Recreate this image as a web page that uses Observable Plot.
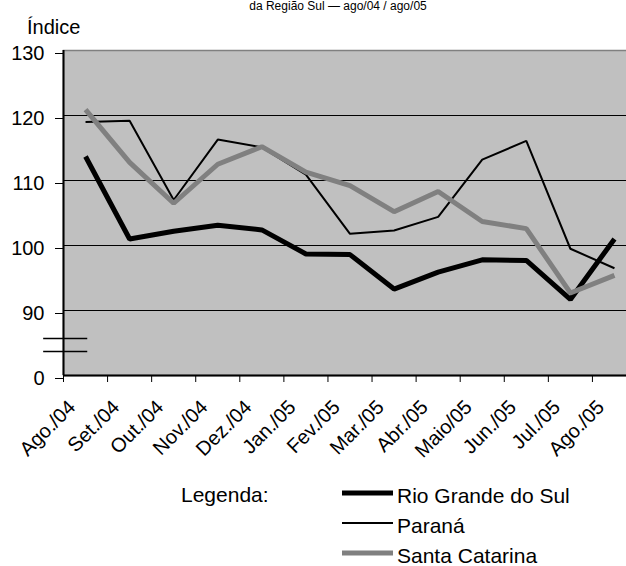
<!DOCTYPE html>
<html>
<head>
<meta charset="utf-8">
<script src="https://cdn.jsdelivr.net/npm/d3@7"></script>
<script src="https://cdn.jsdelivr.net/npm/@observablehq/plot@0.6"></script>
<style>
  html, body { margin: 0; padding: 0; background: #fff; }
  body { width: 626px; height: 566px; overflow: hidden; position: relative;
         font-family: "Liberation Sans", Arial, sans-serif; color: #000; }
  #title { position: absolute; top: 0px; left: 338px; transform: translateX(-50%);
           font-size: 12px; line-height: 12px; white-space: nowrap; }
  #ylabel { position: absolute; top: 17px; left: 27px; font-size: 20px; line-height: 20px; }
  #chart { position: absolute; top: 0; left: 0; width: 640px; }
  #chart svg { max-width: none !important; }
  #legend { position: absolute; top: 466px; left: 0; width: 626px; height: 100px; }
  .lg-item { position: absolute; font-size: 21px; line-height: 21px; white-space: nowrap; }
</style>
</head>
<body>
<div id="title">da Região Sul — ago/04 / ago/05</div>
<div id="ylabel">Índice</div>
<div id="chart"></div>
<div id="legend"></div>
<script>
// ---- data ----
const months = ["Ago./04","Set./04","Out./04","Nov./04","Dez./04","Jan./05","Fev./05","Mar./05","Abr./05","Maio/05","Jun./05","Jul./05","Ago./05"];
const rioGrandeDoSul = [113.7, 101.0, 102.2, 103.1, 102.4, 98.7, 98.6, 93.3, 95.9, 97.8, 97.7, 91.7, 101.0];
const parana         = [119.0, 119.2, 107.0, 116.3, 115.1, 110.9, 101.8, 102.3, 104.4, 113.2, 116.1, 99.5, 96.5];
const santaCatarina  = [120.9, 112.8, 106.5, 112.5, 115.2, 111.3, 109.2, 105.2, 108.3, 103.7, 102.6, 92.7, 95.4];
const seriesNames = ["Rio Grande do Sul", "Paraná", "Santa Catarina"];
const yTicks = [80, 90, 100, 110, 120, 130];   // 80 is the broken-axis "0"
const yTickLabels = ["0", "90", "100", "110", "120", "130"];
const breakMarks = [85.7, 83.7];               // axis-break strokes (data units)

// ---- styles ----
const styles = {
  "Rio Grande do Sul": {stroke: "#000000", width: 5},
  "Paraná": {stroke: "#000000", width: 2},
  "Santa Catarina": {stroke: "#808080", width: 5}
};
const seriesValues = [rioGrandeDoSul, parana, santaCatarina];

const rows = [];
seriesNames.forEach((name, s) => {
  seriesValues[s].forEach((v, i) => rows.push({series: name, i, month: months[i], value: v}));
});

const lineMarks = seriesNames.map(name =>
  Plot.lineY(rows.filter(r => r.series === name), {
    x: d => d.i + 0.5, y: "value",
    stroke: styles[name].stroke, strokeWidth: styles[name].width,
    strokeLinejoin: "miter", strokeLinecap: "butt"
  })
);

const chart = Plot.plot({
  width: 640,
  height: 466,
  marginTop: 50,
  marginBottom: 91,
  marginLeft: 63,
  marginRight: 4,
  style: {fontFamily: "'Liberation Sans', Arial, sans-serif", fontSize: "20px", color: "#000", background: "transparent", maxWidth: "none"},
  x: {type: "linear", domain: [0, months.length], axis: null},
  y: {domain: [80, 130], axis: null},
  marks: [
    Plot.frame({fill: "#c0c0c0", stroke: "#808080", strokeWidth: 1.5}),
    Plot.ruleY(yTicks.filter(t => t > 80 && t < 130), {stroke: "#000", strokeWidth: 1}),
    Plot.ruleX([0], {stroke: "#000", strokeWidth: 2}),
    Plot.ruleY([80], {stroke: "#000", strokeWidth: 2}),
    Plot.axisY({ticks: yTicks, tickSize: 8, tickPadding: 11, dy: 3,
                tickFormat: d => yTickLabels[yTicks.indexOf(d)], label: null, stroke: "#000"}),
    Plot.axisX({ticks: d3.range(months.length), tickSize: 7, tickFormat: () => "", label: null, stroke: "#000"}),
    Plot.text(months, {x: (d, i) => i + 0.5, frameAnchor: "bottom", text: d => d,
                       rotate: -45, textAnchor: "end", lineAnchor: "bottom", dx: -9, dy: 33, fill: "#000"}),
    Plot.ruleY(breakMarks, {x1: -0.45, x2: 0.55, stroke: "#000", strokeWidth: 1.5, clip: false}),
    ...lineMarks
  ]
});
chart.style.maxWidth = "none";
document.getElementById("chart").appendChild(chart);

// ---- legend ----
const legend = document.getElementById("legend");
const lg = document.createElement("div");
lg.className = "lg-item";
lg.textContent = "Legenda:";
lg.style.left = "181px"; lg.style.top = "18px";
legend.appendChild(lg);
const svgNS = "http://www.w3.org/2000/svg";
const sw = document.createElementNS(svgNS, "svg");
sw.setAttribute("width", 626); sw.setAttribute("height", 100);
sw.style.position = "absolute"; sw.style.left = "0"; sw.style.top = "0";
legend.appendChild(sw);
seriesNames.forEach((name, k) => {
  const baseline = 37 + k * 30;
  const ln = document.createElementNS(svgNS, "line");
  ln.setAttribute("x1", 342); ln.setAttribute("x2", 393);
  ln.setAttribute("y1", baseline - 10); ln.setAttribute("y2", baseline - 10);
  ln.setAttribute("stroke", styles[name].stroke);
  ln.setAttribute("stroke-width", styles[name].width);
  sw.appendChild(ln);
  const t = document.createElement("div");
  t.className = "lg-item";
  t.textContent = name;
  t.style.left = "397px"; t.style.top = (baseline - 18) + "px";
  legend.appendChild(t);
});
</script>
</body>
</html>
